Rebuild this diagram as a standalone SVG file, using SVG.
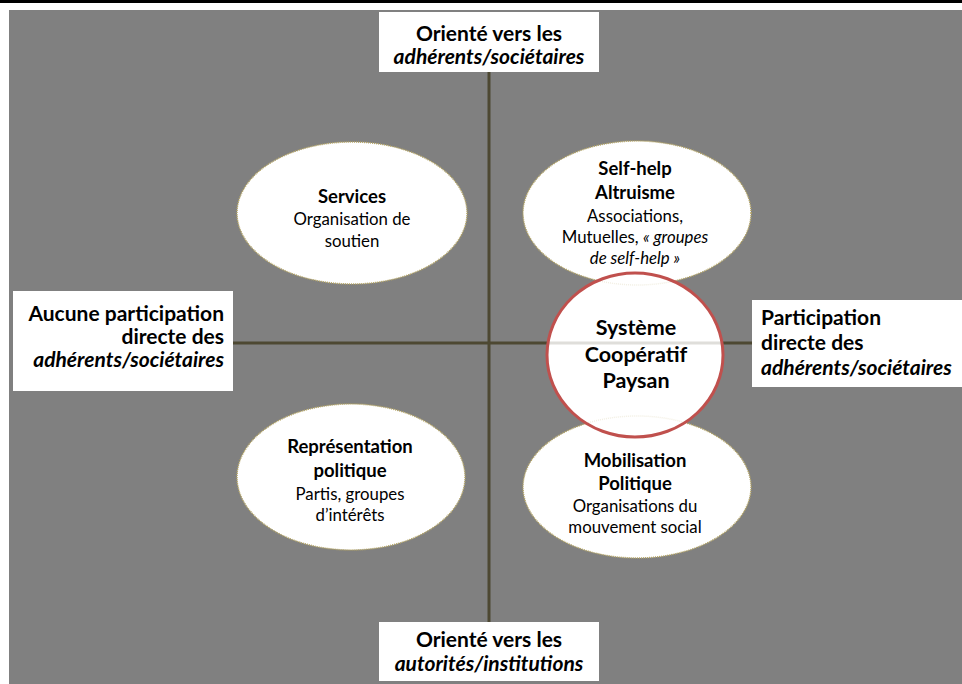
<svg xmlns="http://www.w3.org/2000/svg" width="962" height="684" viewBox="0 0 962 684">
<style>
.t{font-family:Lato,"Open Sans","Liberation Sans",sans-serif;fill:#000}
.b{font-weight:bold}
.i{font-style:italic}
.ax{font-size:21px}
.h{font-size:18.5px;font-weight:bold}
.s{font-size:16.8px}
.ell{fill:#fff;stroke:#b5a563;stroke-width:1.5;stroke-dasharray:1 1}
.box{fill:#fff}
</style>
<defs>
<ellipse id="circ" cx="635" cy="355" rx="88" ry="82"/>
</defs>
<rect x="0" y="0" width="962" height="684" fill="#fff"/>
<rect x="0" y="0" width="962" height="3" fill="#000"/>
<rect x="9" y="10" width="953" height="674" fill="#808080"/>
<use href="#circ" fill="#fff"/>
<g id="connectors">
<line x1="489" y1="70" x2="489" y2="624" stroke="#4d4832" stroke-width="3"/>
<line x1="231" y1="343" x2="754" y2="343" stroke="#4d4832" stroke-width="3"/>
</g>
<g id="services">
<ellipse class="ell" cx="352" cy="213" rx="115" ry="71"/>
<text class="t" text-anchor="middle"><tspan class="h" x="352" y="203">Services</tspan><tspan class="s" x="352" y="225">Organisation de</tspan><tspan class="s" x="352" y="247">soutien</tspan></text>
</g>
<g id="selfhelp">
<ellipse class="ell" cx="637" cy="213" rx="114" ry="72"/>
<text class="t" text-anchor="middle"><tspan class="h" x="635" y="175">Self-help</tspan><tspan class="h" x="635" y="199">Altruisme</tspan><tspan class="s" x="635" y="222">Associations,</tspan><tspan class="s" x="635" y="243">Mutuelles, <tspan class="i">« groupes</tspan></tspan><tspan class="s i" x="635" y="264">de self-help »</tspan></text>
</g>
<g id="representation">
<ellipse class="ell" cx="351" cy="477" rx="114" ry="73"/>
<text class="t" text-anchor="middle"><tspan class="h" x="350" y="453">Représentation</tspan><tspan class="h" x="350" y="477">politique</tspan><tspan class="s" x="350" y="500">Partis, groupes</tspan><tspan class="s" x="350" y="521">d’intérêts</tspan></text>
</g>
<g id="mobilisation">
<ellipse class="ell" cx="637" cy="487" rx="114" ry="71"/>
<text class="t" text-anchor="middle"><tspan class="h" x="635" y="467">Mobilisation</tspan><tspan class="h" x="635" y="490">Politique</tspan><tspan class="s" x="635" y="512">Organisations du</tspan><tspan class="s" x="635" y="533">mouvement social</tspan></text>
</g>
<g id="systeme">
<use href="#circ" fill="#fff" fill-opacity="0.82" stroke="#c0504d" stroke-width="3"/>
<text class="t b" text-anchor="middle" font-size="21.5"><tspan x="636" y="335">Système</tspan><tspan x="636" y="362">Coopératif</tspan><tspan x="636" y="388">Paysan</tspan></text>
</g>
<g id="top">
<rect class="box" x="379" y="12" width="220" height="60"/>
<text class="t ax" text-anchor="middle"><tspan class="b" x="489" y="41">Orienté vers les</tspan><tspan class="b i" x="489" y="64">adhérents/sociétaires</tspan></text>
</g>
<g id="bottom">
<rect class="box" x="379" y="622" width="220" height="59"/>
<text class="t ax" text-anchor="middle"><tspan class="b" x="489" y="647">Orienté vers les</tspan><tspan class="b i" x="489" y="671">autorités/institutions</tspan></text>
</g>
<g id="left">
<rect class="box" x="13" y="291" width="220" height="100"/>
<text class="t ax b" text-anchor="end"><tspan x="224" y="321">Aucune participation</tspan><tspan x="224" y="344">directe des</tspan><tspan class="i" x="224" y="367">adhérents/sociétaires</tspan></text>
</g>
<g id="right">
<rect class="box" x="752" y="300" width="210" height="87"/>
<text class="t ax b"><tspan x="761" y="325">Participation</tspan><tspan x="761" y="350">directe des</tspan><tspan class="i" x="761" y="375">adhérents/sociétaires</tspan></text>
</g>
</svg>
